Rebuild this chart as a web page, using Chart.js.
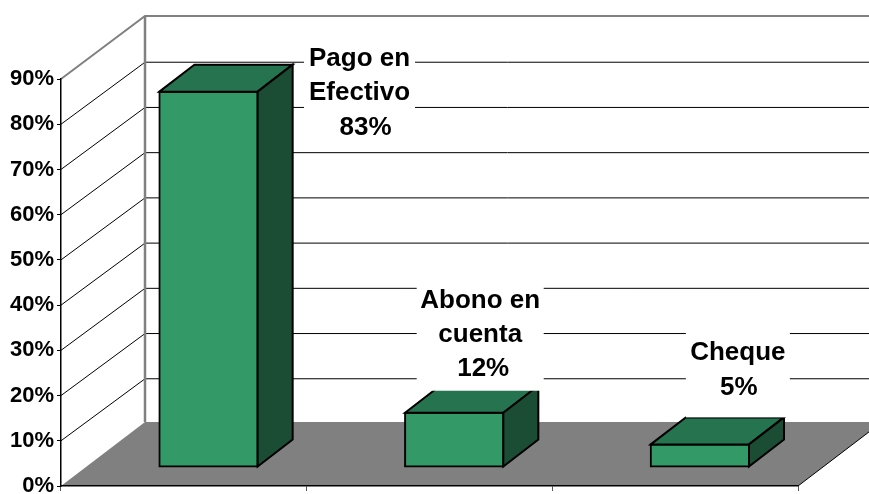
<!DOCTYPE html>
<html>
<head>
<meta charset="utf-8">
<title>Forma de pago</title>
<script src="https://cdn.jsdelivr.net/npm/chart.js@4"></script>
<style>
  html, body { margin: 0; padding: 0; background: #fff; overflow: hidden; }
  canvas { display: block; }
</style>
</head>
<body>
<canvas id="chart" width="869" height="494"></canvas>
<script>
const categories = ["Pago en Efectivo", "Abono en cuenta", "Cheque"];
const values = [83, 12, 5];
const labelLines = [["Pago en", "Efectivo", "83%"], ["Abono en", "cuenta", "12%"], ["Cheque", "5%"]];

const FONT = '"Liberation Sans", Arial, sans-serif';
const COLORS = { front: "#339966", top: "#267350", side: "#1a4d33", floor: "#808080", wall: "#808080" };

// depth of the fake 3D box, in px
const WALL_DX = 84, WALL_DY = -64, GRID_DY = -62;
const BAR_DX = 24.7, BAR_DY = -19;
const SIDE_DX = 35, SIDE_DY = -27;

// data label boxes, relative to the top centre of each bar's front face
const LABEL_BOXES = [
  { dx: 151, top: -48, w: 111, h: 98, lineH: 34.5, first: -33, pctShift: 6 },
  { dx: 26, top: -130, w: 127, h: 108, lineH: 34, first: -112, pctShift: 3 },
  { dx: 38, top: -113, w: 104, h: 86, lineH: 35, first: -92, pctShift: 1 }
];

const wallsPlugin = {
  id: "walls",
  beforeDraw(chart) {
    const { ctx, scales: { x, y } } = chart;
    const left = x.left, right = x.right;
    const y0 = y.getPixelForValue(0), yTop = y.getPixelForValue(90);
    ctx.save();
    ctx.fillStyle = "#fff";
    ctx.fillRect(0, 0, chart.width, chart.height);

    // floor
    ctx.fillStyle = COLORS.floor;
    ctx.beginPath();
    ctx.moveTo(left, y0);
    ctx.lineTo(right, y0);
    ctx.lineTo(right + WALL_DX, y0 + WALL_DY);
    ctx.lineTo(left + WALL_DX, y0 + WALL_DY);
    ctx.closePath();
    ctx.fill();

    // floor right edge
    ctx.strokeStyle = "#000";
    ctx.lineWidth = 1;
    ctx.beginPath();
    ctx.moveTo(right, y0);
    ctx.lineTo(right + WALL_DX, y0 + WALL_DY);
    ctx.stroke();

    // gridlines, side wall then back wall
    y.ticks.forEach(t => {
      if (t.value === 0 || t.value === 90) return;
      const py = y.getPixelForValue(t.value);
      ctx.beginPath();
      ctx.moveTo(left, py);
      ctx.lineTo(left + WALL_DX, py + GRID_DY);
      ctx.lineTo(right + WALL_DX, py + GRID_DY);
      ctx.stroke();
    });

    // wall outline
    ctx.strokeStyle = COLORS.wall;
    ctx.lineWidth = 2;
    ctx.beginPath();
    ctx.moveTo(left, yTop);
    ctx.lineTo(left + WALL_DX, yTop + WALL_DY + 1);
    ctx.lineTo(right + WALL_DX, yTop + WALL_DY + 1);
    ctx.stroke();
    ctx.lineWidth = 2.5;
    ctx.beginPath();
    ctx.moveTo(left + WALL_DX, yTop + WALL_DY + 1);
    ctx.lineTo(left + WALL_DX, y0 + WALL_DY);
    ctx.stroke();
    ctx.restore();
  },
  beforeDatasetDraw(chart) {
    chart.ctx.save();
    chart.ctx.translate(BAR_DX, BAR_DY);
  },
  afterDatasetDraw(chart, args) {
    const ctx = chart.ctx;
    ctx.strokeStyle = "#000";
    ctx.lineWidth = 2;
    ctx.lineJoin = "miter";
    args.meta.data.forEach(bar => {
      const l = bar.x - bar.width / 2, r = bar.x + bar.width / 2;
      ctx.fillStyle = COLORS.top;
      ctx.beginPath();
      ctx.moveTo(l, bar.y);
      ctx.lineTo(l + SIDE_DX, bar.y + SIDE_DY);
      ctx.lineTo(r + SIDE_DX, bar.y + SIDE_DY);
      ctx.lineTo(r, bar.y);
      ctx.closePath();
      ctx.fill();
      ctx.stroke();
      ctx.fillStyle = COLORS.side;
      ctx.beginPath();
      ctx.moveTo(r, bar.y);
      ctx.lineTo(r + SIDE_DX, bar.y + SIDE_DY);
      ctx.lineTo(r + SIDE_DX, bar.base + SIDE_DY);
      ctx.lineTo(r, bar.base);
      ctx.closePath();
      ctx.fill();
      ctx.stroke();
    });
    ctx.restore();
  },
  afterDatasetsDraw(chart) {
    const ctx = chart.ctx;
    const bars = chart.getDatasetMeta(0).data;
    ctx.save();
    ctx.font = "bold 26px " + FONT;
    ctx.textAlign = "center";
    ctx.textBaseline = "middle";
    bars.forEach((bar, i) => {
      const b = LABEL_BOXES[i];
      const cx = bar.x + BAR_DX + b.dx;
      const topY = bar.y + BAR_DY;
      ctx.fillStyle = "#fff";
      ctx.fillRect(cx - b.w / 2, topY + b.top, b.w, b.h);
      ctx.fillStyle = "#000";
      labelLines[i].forEach((line, k) => {
        const shift = k === labelLines[i].length - 1 ? b.pctShift : 0;
        ctx.fillText(line, cx + shift, topY + b.first + k * b.lineH);
      });
    });
    ctx.restore();
  }
};

new Chart(document.getElementById("chart"), {
  type: "bar",
  data: {
    labels: categories,
    datasets: [{
      data: values,
      backgroundColor: COLORS.front,
      borderColor: "#000",
      borderWidth: 2,
      borderSkipped: false,
      inflateAmount: 1,
      categoryPercentage: 1,
      barPercentage: 0.4,
      clip: false
    }]
  },
  plugins: [wallsPlugin],
  options: {
    responsive: false,
    animation: false,
    layout: { autoPadding: false, padding: { top: 79, right: 71, bottom: 0, left: 0 } },
    plugins: { legend: { display: false }, tooltip: { enabled: false } },
    scales: {
      x: {
        afterFit: s => { s.height = 8; },
        grid: { drawOnChartArea: false, tickLength: 5, color: "#555" },
        border: { color: "#000", width: 1.5 },
        ticks: { display: false }
      },
      y: {
        min: 0, max: 90,
        // the tick label overhang would otherwise push the axis up from the bottom edge
        afterFit: s => { s.width = 61; s.paddingBottom = 0; s.paddingTop = 0; },
        grid: { drawOnChartArea: false, tickLength: 4, color: "#000" },
        border: { color: "#000", width: 1.5 },
        ticks: {
          stepSize: 10,
          padding: 3,
          color: "#000",
          font: { family: FONT, size: 22, weight: "bold" },
          callback: v => v + "%"
        }
      }
    }
  }
});
</script>
</body>
</html>
